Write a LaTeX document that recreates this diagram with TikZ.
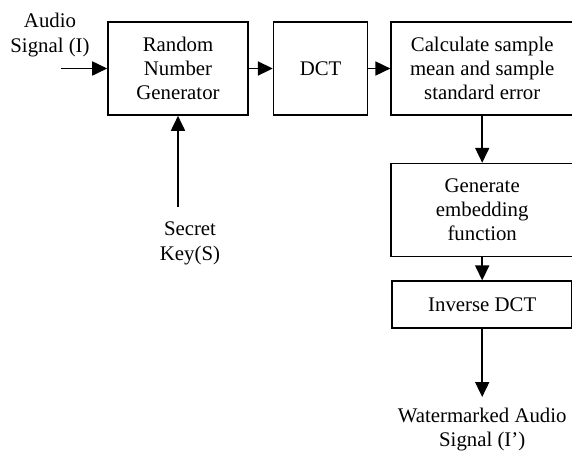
\documentclass[tikz,border=0pt]{standalone}
\usepackage{fontspec}
\setmainfont{Liberation Serif}
\usetikzlibrary{arrows.meta, positioning}

\begin{document}
\begin{tikzpicture}[
  x=0.5pt, y=-0.5pt,
  node distance=12pt,
  block/.style={draw, line width=0.8pt, align=center, minimum height=46.5pt,
    font=\fontsize{10.4}{12}\selectfont, inner sep=2pt},
  txt/.style={align=center, font=\fontsize{10.4}{12.5}\selectfont, inner sep=0pt},
  arrow/.style={-{Triangle[length=7.5pt, width=7pt]}, line width=0.9pt},
]
  \useasboundingbox (0,0) rectangle (572,450);

  \node (rng) [block, minimum width=70pt] at (178,68.5) {Random\\Number\\Generator};
  \node (dct) [block, minimum width=47pt, right=12pt of rng] {DCT};
  \node (calc) [block, minimum width=91pt, right=11pt of dct] {Calculate sample\\mean and sample\\standard error};
  \node (gen) [block, minimum width=91pt, below=23.5pt of calc] {Generate\\embedding\\function};
  \node (inv) [block, minimum width=90pt, minimum height=23.5pt, below=11.5pt of gen] {Inverse DCT};

  \node (sig) [txt] at (50,35) {Audio\\Signal (I)};
  \coordinate [left=23pt of rng.west] (ain);
  \node (key) [txt, below=53pt of rng, xshift=6pt] {Secret\\Key(S)};
  \node (out) [txt, font=\fontsize{10.4}{12}\selectfont, below=39.5pt of inv] {Watermarked Audio\\Signal (I')};

  \draw[arrow] (ain) -- (rng);
  \draw[arrow, shorten <=7.5pt] (key.north -| rng) -- (rng);
  \draw[arrow] (rng) -- (dct);
  \draw[arrow] (dct) -- (calc);
  \draw[arrow] (calc) -- (gen);
  \draw[arrow] (gen) -- (inv);
  \draw[arrow, shorten >=5.5pt] (inv) -- (out);
\end{tikzpicture}
\end{document}
